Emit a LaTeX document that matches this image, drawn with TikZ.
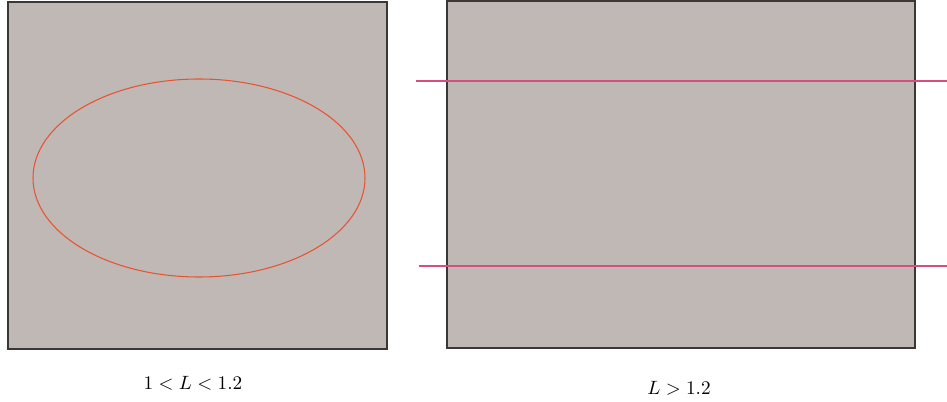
\documentclass[tikz,border=0pt]{standalone}
\usetikzlibrary{positioning}
\definecolor{PanelGrey}{RGB}{192,184,181}
\definecolor{EdgeDark}{RGB}{60,55,55}
\definecolor{OrbitRed}{RGB}{232,82,48}
\definecolor{BandPink}{RGB}{214,78,128}
\tikzset{
  panel/.style={draw=EdgeDark,fill=PanelGrey,line width=0.8pt},
  orbit/.style={draw=OrbitRed,line width=0.6pt},
  band/.style={draw=BandPink,line width=0.7pt},
  caption/.style={font=\fontsize{11}{13}\selectfont,inner sep=0pt}
}

\begin{document}
\begin{tikzpicture}[x=0.02cm,y=-0.02cm]
  \useasboundingbox (0,0) rectangle (947,402);
  % left panel
  \draw[panel] (8,2) rectangle (387,349);
  \draw[orbit] (199,178) ellipse [x radius=166,y radius=99];
  \node[caption] (lowcase) at (193,383) {$1 < L < 1.2$};
  % right panel
  \draw[panel] (447,1) rectangle (915,348);
  \coordinate (topin) at (416,81);
  \coordinate (topout) at (947,81);
  \coordinate (botin) at (419,266);
  \coordinate (botout) at (947,266);
  \draw[band] (topin) -- (topout);
  \draw[band] (botin) -- (botout);
  \node[caption] (highcase) at (679,388) {$L > 1.2$};
\end{tikzpicture}
\end{document}
